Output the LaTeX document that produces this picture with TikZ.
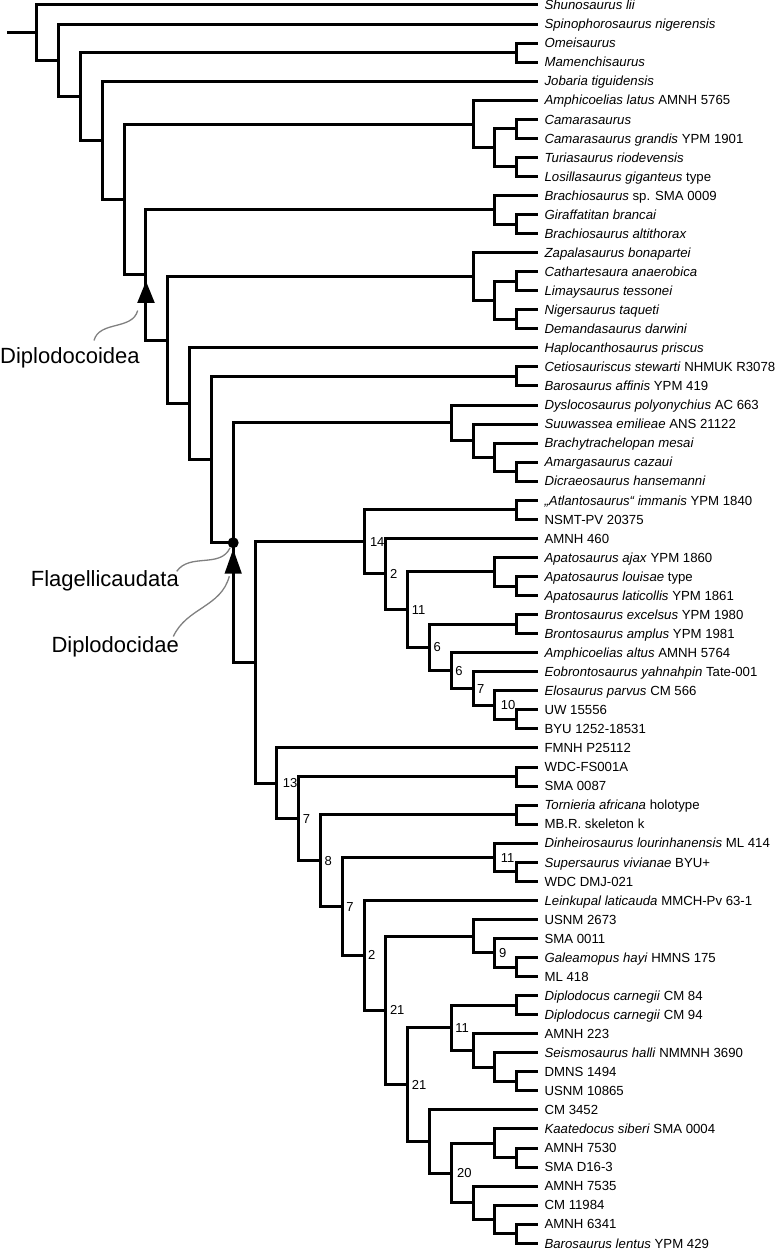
\documentclass[tikz,border=0pt]{standalone}
\usepackage{fontspec}
\setmainfont{Liberation Sans}
\definecolor{ptr}{RGB}{128,128,128}
\begin{document}
\begin{tikzpicture}[x=21.8pt, y=-19.05pt,
  br/.style={line width=3pt, line join=miter},
  leaflab/.style={anchor=base west, inner sep=0pt, xshift=6pt, yshift=-4.75pt, font=\fontsize{13.2}{15}\selectfont},
  nlab/.style={anchor=base west, inner sep=0pt, xshift=4pt, yshift=-4.6pt, font=\fontsize{13}{15}\selectfont},
  tightlab/.style={nlab, xshift=1.8pt},
  clade/.style={inner sep=0pt, font=\fontsize{22}{26}\selectfont},
  pointer/.style={draw=ptr, line width=1.3pt}]
\useasboundingbox (-1.6972,0.7375) rectangle (33.853,66.355);

% leaves
\foreach \i/\lab in {
1/{\textit{Shunosaurus lii}},
2/{\textit{Spinophorosaurus nigerensis}},
3/{\textit{Omeisaurus}},
4/{\textit{Mamenchisaurus}},
5/{\textit{Jobaria tiguidensis}},
6/{\textit{Amphicoelias latus} AMNH 5765},
7/{\textit{Camarasaurus}},
8/{\textit{Camarasaurus grandis} YPM 1901},
9/{\textit{Turiasaurus riodevensis}},
10/{\textit{Losillasaurus giganteus} type},
11/{\textit{Brachiosaurus} sp. SMA 0009},
12/{\textit{Giraffatitan brancai}},
13/{\textit{Brachiosaurus altithorax}},
14/{\textit{Zapalasaurus bonapartei}},
15/{\textit{Cathartesaura anaerobica}},
16/{\textit{Limaysaurus tessonei}},
17/{\textit{Nigersaurus taqueti}},
18/{\textit{Demandasaurus darwini}},
19/{\textit{Haplocanthosaurus priscus}},
20/{\textit{Cetiosauriscus stewarti} NHMUK R3078},
21/{\textit{Barosaurus affinis} YPM 419},
22/{\textit{Dyslocosaurus polyonychius} AC 663},
23/{\textit{Suuwassea emilieae} ANS 21122},
24/{\textit{Brachytrachelopan mesai}},
25/{\textit{Amargasaurus cazaui}},
26/{\textit{Dicraeosaurus hansemanni}},
27/{\textit{„Atlantosaurus“ immanis} YPM 1840},
28/{NSMT-PV 20375},
29/{AMNH 460},
30/{\textit{Apatosaurus ajax} YPM 1860},
31/{\textit{Apatosaurus louisae} type},
32/{\textit{Apatosaurus laticollis} YPM 1861},
33/{\textit{Brontosaurus excelsus} YPM 1980},
34/{\textit{Brontosaurus amplus} YPM 1981},
35/{\textit{Amphicoelias altus} AMNH 5764},
36/{\textit{Eobrontosaurus yahnahpin} Tate-001},
37/{\textit{Elosaurus parvus} CM 566},
38/{UW 15556},
39/{BYU 1252-18531},
40/{FMNH P25112},
41/{WDC-FS001A},
42/{SMA 0087},
43/{\textit{Tornieria africana} holotype},
44/{MB.R. skeleton k},
45/{\textit{Dinheirosaurus lourinhanensis} ML 414},
46/{\textit{Supersaurus vivianae} BYU+},
47/{WDC DMJ-021},
48/{\textit{Leinkupal laticauda} MMCH-Pv 63-1},
49/{USNM 2673},
50/{SMA 0011},
51/{\textit{Galeamopus hayi} HMNS 175},
52/{ML 418},
53/{\textit{Diplodocus carnegii} CM 84},
54/{\textit{Diplodocus carnegii} CM 94},
55/{AMNH 223},
56/{\textit{Seismosaurus halli} NMMNH 3690},
57/{DMNS 1494},
58/{USNM 10865},
59/{CM 3452},
60/{\textit{Kaatedocus siberi} SMA 0004},
61/{AMNH 7530},
62/{SMA D16-3},
63/{AMNH 7535},
64/{CM 11984},
65/{AMNH 6341},
66/{\textit{Barosaurus lentus} YPM 429}}
{\coordinate (L\i) at (23,\i); \node[leaflab] (T\i) at (L\i) {\lab};}

% internal nodes (x = level, y = row)
\coordinate (root) at (-1.358,2.45064);
\coordinate (n1) at (0,2.45064);
\coordinate (n2) at (1,3.90128);
\coordinate (n3) at (2,5.80256);
\coordinate (nOM) at (22,3.5);
\coordinate (n4) at (3,8.10512);
\coordinate (n5) at (4,11.21024);
\coordinate (nCam) at (20,7.25);
\coordinate (nCT) at (21,8.5);
\coordinate (nC) at (22,7.5);
\coordinate (nT) at (22,9.5);
\coordinate (n6) at (5,15.17048);
\coordinate (nBr) at (21,11.75);
\coordinate (nGA) at (22,12.5);
\coordinate (n7) at (6,18.590965);
\coordinate (nRe) at (20,15.25);
\coordinate (nRe2) at (21,16.5);
\coordinate (nCL) at (22,15.5);
\coordinate (nND) at (22,17.5);
\coordinate (n8) at (7,21.93193);
\coordinate (n9) at (8,24.86386);
\coordinate (nCB) at (22,20.5);
\coordinate (n10) at (9,29.22772);
\coordinate (nDi) at (19,22.9375);
\coordinate (nDi2) at (20,23.875);
\coordinate (nDi3) at (21,24.75);
\coordinate (nDi4) at (22,25.5);
\coordinate (nDd) at (10,35.51794);
\coordinate (nAp) at (15,29.18359);
\coordinate (nAN) at (22,27.5);
\coordinate (nA2) at (16,30.86719);
\coordinate (nA3) at (17,32.73438);
\coordinate (nApa) at (21,30.75);
\coordinate (nApa2) at (22,31.5);
\coordinate (nA4) at (18,34.71875);
\coordinate (nBro) at (22,33.5);
\coordinate (nA5) at (19,35.9375);
\coordinate (nA6) at (20,36.875);
\coordinate (nA7) at (21,37.75);
\coordinate (nA8) at (22,38.5);
\coordinate (nDp) at (11,41.85229);
\coordinate (nD2) at (12,43.70459);
\coordinate (nWS) at (22,41.5);
\coordinate (nD3) at (13,45.90918);
\coordinate (nTo) at (22,43.5);
\coordinate (nD4) at (14,48.31836);
\coordinate (nDS) at (21,45.75);
\coordinate (nDS2) at (22,46.5);
\coordinate (nD5) at (15,50.88672);
\coordinate (nD6) at (16,53.77344);
\coordinate (nGa) at (20,49.875);
\coordinate (nGa2) at (21,50.75);
\coordinate (nGa3) at (22,51.5);
\coordinate (nD7) at (17,57.67188);
\coordinate (nDc) at (19,54.6875);
\coordinate (nDc1) at (22,53.5);
\coordinate (nDc2) at (20,55.875);
\coordinate (nDc3) at (21,56.75);
\coordinate (nDc4) at (22,57.5);
\coordinate (nD8) at (18,60.65625);
\coordinate (nBa) at (19,62.3125);
\coordinate (nKa) at (21,60.75);
\coordinate (nKa2) at (22,61.5);
\coordinate (nBa2) at (20,63.875);
\coordinate (nBa3) at (21,64.75);
\coordinate (nBa4) at (22,65.5);

% branches
\draw[br] (root) -- (n1);
\foreach \pa/\ch in {
n1/L1, n1/n2, n2/L2, n2/n3, n3/nOM, n3/n4, nOM/L3, nOM/L4,
n4/L5, n4/n5, n5/nCam, n5/n6, nCam/L6, nCam/nCT, nCT/nC, nCT/nT,
nC/L7, nC/L8, nT/L9, nT/L10, n6/nBr, n6/n7, nBr/L11, nBr/nGA,
nGA/L12, nGA/L13, n7/nRe, n7/n8, nRe/L14, nRe/nRe2, nRe2/nCL, nRe2/nND,
nCL/L15, nCL/L16, nND/L17, nND/L18, n8/L19, n8/n9, n9/nCB, n9/n10,
nCB/L20, nCB/L21, n10/nDi, n10/nDd, nDi/L22, nDi/nDi2, nDi2/L23, nDi2/nDi3,
nDi3/L24, nDi3/nDi4, nDi4/L25, nDi4/L26, nDd/nAp, nDd/nDp, nAp/nAN, nAp/nA2,
nAN/L27, nAN/L28, nA2/L29, nA2/nA3, nA3/nApa, nA3/nA4, nApa/L30, nApa/nApa2,
nApa2/L31, nApa2/L32, nA4/nBro, nA4/nA5, nBro/L33, nBro/L34, nA5/L35, nA5/nA6,
nA6/L36, nA6/nA7, nA7/L37, nA7/nA8, nA8/L38, nA8/L39, nDp/L40, nDp/nD2,
nD2/nWS, nD2/nD3, nWS/L41, nWS/L42, nD3/nTo, nD3/nD4, nTo/L43, nTo/L44,
nD4/nDS, nD4/nD5, nDS/L45, nDS/nDS2, nDS2/L46, nDS2/L47, nD5/L48, nD5/nD6,
nD6/nGa, nD6/nD7, nGa/L49, nGa/nGa2, nGa2/L50, nGa2/nGa3, nGa3/L51, nGa3/L52,
nD7/nDc, nD7/nD8, nDc/nDc1, nDc/nDc2, nDc1/L53, nDc1/L54, nDc2/L55, nDc2/nDc3,
nDc3/L56, nDc3/nDc4, nDc4/L57, nDc4/L58, nD8/L59, nD8/nBa, nBa/nKa, nBa/nBa2,
nKa/L60, nKa/nKa2, nKa2/L61, nKa2/L62, nBa2/L63, nBa2/nBa3, nBa3/L64, nBa3/nBa4,
nBa4/L65, nBa4/L66}
{\draw[br] (\pa) |- (\ch);}

% support values
\node[tightlab] (s14) at (nAp) {14};
\node[nlab] (s2a) at (nA2) {2};
\node[nlab] (s11a) at (nA3) {11};
\node[nlab] (s6a) at (nA4) {6};
\node[nlab] (s6b) at (nA5) {6};
\node[nlab] (s7a) at (nA6) {7};
\node[tightlab] (s10) at (nA7) {10};
\node[tightlab] (s13) at (nDp) {13};
\node[nlab] (s7b) at (nD2) {7};
\node[nlab] (s8) at (nD3) {8};
\node[nlab] (s7c) at (nD4) {7};
\node[tightlab] (s11b) at (nDS) {11};
\node[nlab] (s2b) at (nD5) {2};
\node[nlab] (s21a) at (nD6) {21};
\node[nlab] (s9) at (nGa2) {9};
\node[nlab] (s21b) at (nD7) {21};
\node[nlab] (s11c) at (nDc) {11};
\node[tightlab] (s20) at (nBa) {20};

% clade markers
\fill ([yshift=-6.3pt]n6) -- ([shift={(-8.8pt,-28pt)}]n6) -- ([shift={(8.8pt,-28pt)}]n6) -- cycle;
\node[circle, fill=black, inner sep=0pt, minimum size=11pt] (flagdot) at (n10) {};
\fill ([yshift=-6.4pt]n10) -- ([shift={(-8.7pt,-31pt)}]n10) -- ([shift={(8.7pt,-31pt)}]n10) -- cycle;

% clade names
\node[clade, anchor=base west] (diplodocoidea) at (-1.6972,19.8) {Diplodocoidea};
\node[clade, anchor=base east] (flagellicaudata) at (6.514,31.52) {Flagellicaudata};
\node[clade, anchor=base east] (diplodocidae) at (6.514,34.99) {Diplodocidae};

\coordinate (p1s) at (2.615,18.61);
\coordinate (p1e) at (4.619,17.04);
\coordinate (p2s) at (6.408,30.73);
\coordinate (p2e) at (8.853,29.50);
\coordinate (p3s) at (6.252,34.15);
\coordinate (p3e) at (8.821,30.99);
\draw[pointer] (p1s) to[out=75,in=-105] (p1e);
\draw[pointer] (p2s) to[out=55,in=-115] (p2e);
\draw[pointer] (p3s) to[out=65,in=-105] (p3e);
\end{tikzpicture}
\end{document}
